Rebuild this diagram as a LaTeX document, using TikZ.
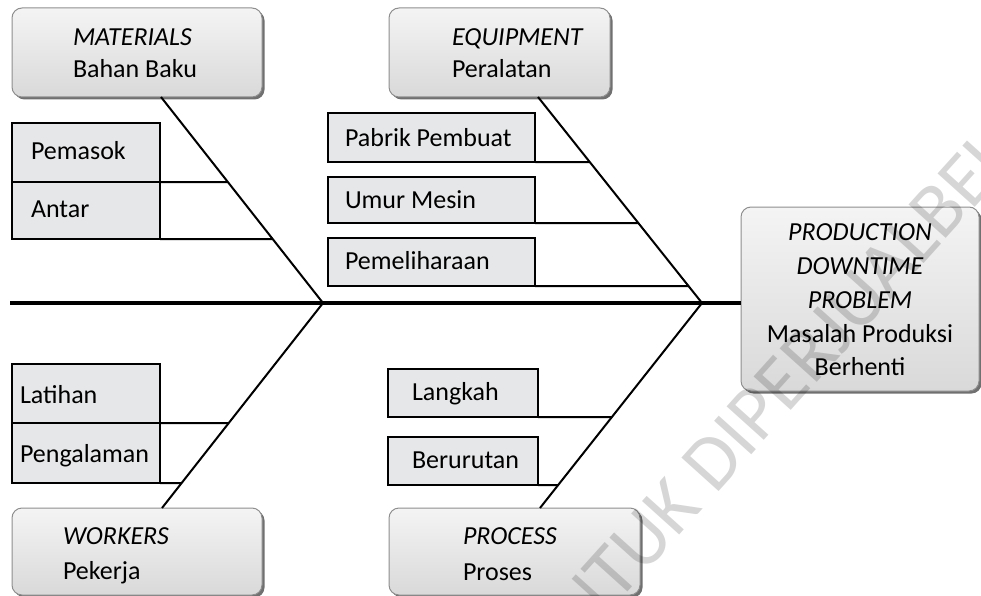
\documentclass[tikz,border=0pt]{standalone}
\usepackage{fontspec}
\setmainfont{Carlito}
\usetikzlibrary{shadows,calc}

\definecolor{cellfill}{HTML}{E6E7E8}
\definecolor{boxtop}{HTML}{F4F4F4}
\definecolor{boxbot}{HTML}{D9D9D9}
\definecolor{boxedge}{HTML}{8E8E8E}

% short rib from a cell corner to its bone
\newcommand\twig[3]{\draw[bone] (#1) -- (intersection cs:first line={(#1)--([xshift=10pt]#1)}, second line={(#2)--(#3)});}

\begin{document}
\begin{tikzpicture}[x=1pt,y=-1pt,
  every node/.style={inner sep=0pt, outer sep=0pt},
  headbox/.style={draw=boxedge, line width=1pt, rounded corners=10pt,
    top color=boxtop, bottom color=boxbot, anchor=north west,
    drop shadow={shadow xshift=2.5pt, shadow yshift=-2.5pt, fill=black!75, opacity=0.75}},
  headtext/.style={anchor=north west, align=left, font=\fontsize{26}{32.5}\selectfont},
  lowtext/.style={anchor=north west, align=left, font=\fontsize{26}{35.5}\selectfont},
  cellbox/.style={draw=black, line width=2.4pt, fill=cellfill, anchor=north west},
  celltext/.style={anchor=base west, font=\fontsize{26}{32}\selectfont},
  bone/.style={line width=2pt},
  spine/.style={line width=3.2pt},
  watermark/.style={anchor=west, rotate=48, font=\fontsize{78}{78}\selectfont,
    text=black, text opacity=0.16},
]
\useasboundingbox (0,0) rectangle (981,596);

% category boxes
\node[headbox, minimum width=250pt, minimum height=89pt] (mat) at (12,8) {};
\node[headtext] (mat-t) at (73,28.5) {{\itshape MATERIALS}\\Bahan Baku};
\node[headbox, minimum width=221pt, minimum height=89pt] (eqp) at (389,8) {};
\node[headtext] (eqp-t) at (452,28.5) {{\itshape EQUIPMENT}\\Peralatan};
\node[headbox, minimum width=250pt, minimum height=87pt] (wrk) at (12,508) {};
\node[lowtext] (wrk-t) at (63,527.5) {{\itshape WORKERS}\\Pekerja};
\node[headbox, minimum width=251pt, minimum height=87pt] (prc) at (389,508) {};
\node[lowtext] (prc-t) at (463,528) {{\itshape PROCESS}\\Proses};

% effect box
\node[headbox, minimum width=238pt, minimum height=184pt] (effect) at (741,207) {};
\node[align=center, font=\fontsize{26}{33.7}\selectfont] (effect-t) at (860,300)
  {{\itshape PRODUCTION}\\{\itshape DOWNTIME}\\{\itshape PROBLEM}\\Masalah Produksi\\Berhenti};

% cause cells
\node[cellbox, minimum width=148pt, minimum height=59pt] (pemasok) at (12,123) {};
\node[celltext] (pemasok-t) at ([xshift=19pt,yshift=-7.5pt]pemasok.west) {Pemasok};
\node[cellbox, minimum width=148pt, minimum height=57pt] (antar) at (12,182) {};
\node[celltext] (antar-t) at ([xshift=19pt,yshift=-7pt]antar.west) {Antar};

\node[cellbox, minimum width=207pt, minimum height=49pt] (pabrik) at (328,113) {};
\node[celltext] (pabrik-t) at ([xshift=17pt,yshift=-9pt]pabrik.west) {Pabrik Pembuat};
\node[cellbox, minimum width=207pt, minimum height=46pt] (umur) at (328,177) {};
\node[celltext] (umur-t) at ([xshift=17pt,yshift=-8pt]umur.west) {Umur Mesin};
\node[cellbox, minimum width=207pt, minimum height=48pt] (pemeliharaan) at (328,238) {};
\node[celltext] (pemeliharaan-t) at ([xshift=17pt,yshift=-7.5pt]pemeliharaan.west) {Pemeliharaan};

\node[cellbox, minimum width=148pt, minimum height=59pt] (latihan) at (12,364) {};
\node[celltext] (latihan-t) at ([xshift=8pt,yshift=-10pt]latihan.west) {Latihan};
\node[cellbox, minimum width=148pt, minimum height=60pt] (pengalaman) at (12,423) {};
\node[celltext] (pengalaman-t) at ([xshift=8pt,yshift=-9pt]pengalaman.west) {Pengalaman};

\node[cellbox, minimum width=150pt, minimum height=48pt] (langkah) at (388,369) {};
\node[celltext] (langkah-t) at ([xshift=24pt,yshift=-7pt]langkah.west) {Langkah};
\node[cellbox, minimum width=150pt, minimum height=48pt] (berurutan) at (388,437) {};
\node[celltext] (berurutan-t) at ([xshift=24pt,yshift=-7pt]berurutan.west) {Berurutan};

% spine and bones
\coordinate (spinetail) at (10,303);
\coordinate (tail) at (323,303);
\coordinate (head) at (702,303);
\coordinate (matfoot) at ([xshift=24pt]mat.south);
\coordinate (eqpfoot) at ([xshift=38.5pt]eqp.south);
\coordinate (wrkfoot) at ([xshift=25pt]wrk.north);
\coordinate (prcfoot) at ([xshift=25.5pt]prc.north);

\draw[spine] (spinetail) -- (effect.west |- head);
\draw[bone] (matfoot) -- (tail);
\draw[bone] (wrkfoot) -- (tail);
\draw[bone] (eqpfoot) -- (head);
\draw[bone] (prcfoot) -- (head);

% ribs
\twig{pemasok.south east}{matfoot}{tail}
\twig{antar.south east}{matfoot}{tail}
\twig{pabrik.south east}{eqpfoot}{head}
\twig{umur.south east}{eqpfoot}{head}
\twig{pemeliharaan.south east}{eqpfoot}{head}
\twig{pengalaman.north east}{wrkfoot}{tail}
\twig{pengalaman.south east}{wrkfoot}{tail}
\twig{langkah.south east}{prcfoot}{head}
\twig{berurutan.south east}{prcfoot}{head}

% faint diagonal stamp
\begin{scope}
  \clip (0,0) rectangle (981,596);
  \node[watermark] (stamp) at (532,662) {UNTUK DIPERJUALBELIKAN};
\end{scope}
\end{tikzpicture}
\end{document}
